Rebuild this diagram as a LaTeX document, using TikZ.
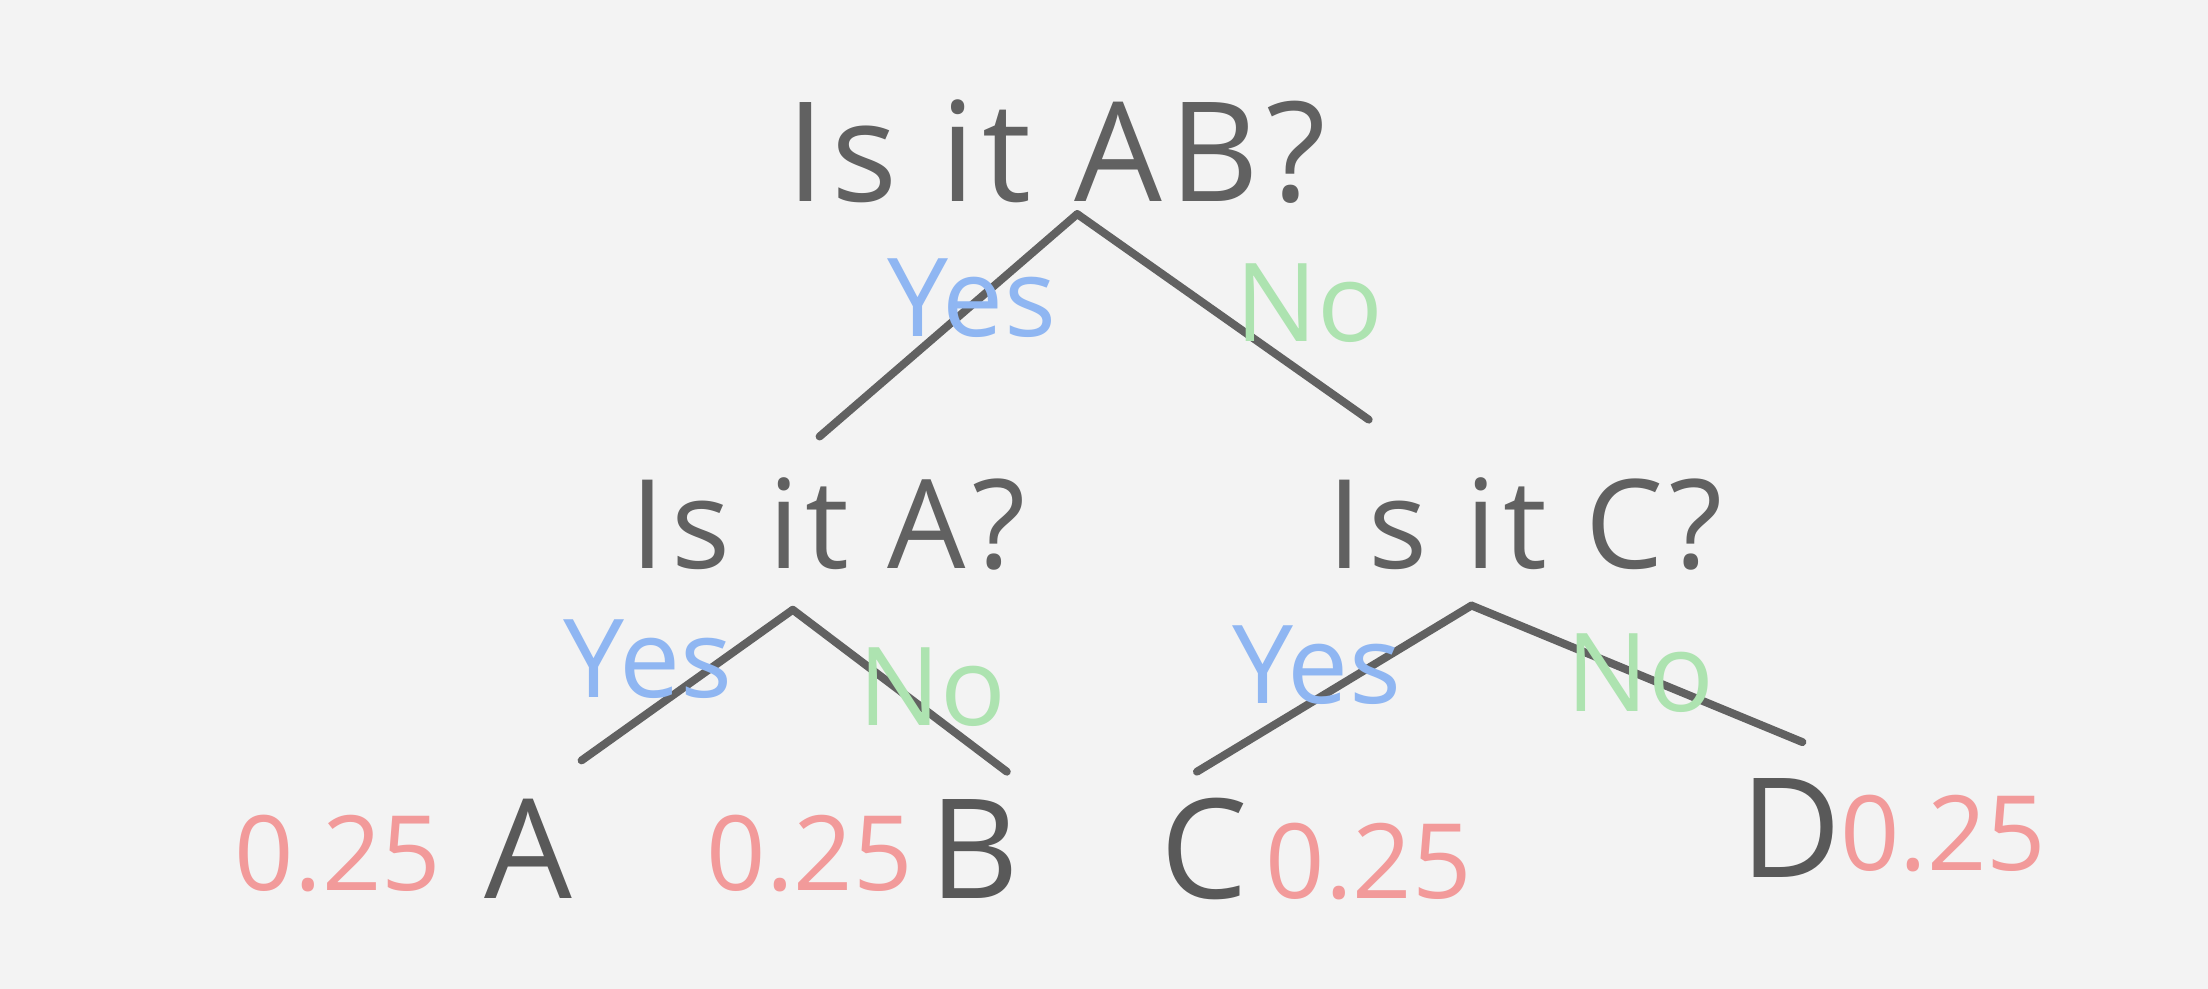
\documentclass[tikz,border=0pt]{standalone}
\usepackage{fontspec}
\setmainfont{Open Sans}
\begin{document}
\begin{tikzpicture}[x=0.01cm,y=-0.01cm,
  pencil/.style={draw=black!62,line width=1.6pt,line cap=round},
  q/.style={text=black!62,font=\fontsize{28}{34}\selectfont\addfontfeature{LetterSpace=5}},
  q2/.style={text=black!62,font=\fontsize{25}{30}\selectfont\addfontfeature{LetterSpace=5}},
  leaf/.style={text=black!65,font=\fontsize{28}{34}\selectfont},
  yes/.style={text=yesblue,font=\fontsize{22}{26}\selectfont},
  no/.style={text=nogreen,font=\fontsize{22}{26}\selectfont},
  prob/.style={text=probred,font=\fontsize{21}{25}\selectfont},
]
\definecolor{bg}{HTML}{F3F3F3}
\definecolor{yesblue}{HTML}{8FB6F2}
\definecolor{nogreen}{HTML}{ADE3B0}
\definecolor{probred}{HTML}{F29A9A}
\fill[bg] (0,0) rectangle (1568,702);
\useasboundingbox (0,0) rectangle (1568,702);

% questions
\node[q] (root) at (750,108) {Is it AB?};
\node[q2] (qa) at (588,372) {Is it A?};
\node[q2] (qc) at (1083,372) {Is it C?};

% branch points
\coordinate (r0) at (765,152);
\coordinate (rl) at (582,310);
\coordinate (rr) at (972,298);
\coordinate (a0) at (563,433);
\coordinate (al) at (413,540);
\coordinate (ar) at (715,548);
\coordinate (c0) at (1045,430);
\coordinate (cl) at (850,548);
\coordinate (cr) at (1280,527);

\draw[pencil] (r0) -- (rl);
\draw[pencil] (r0) -- (rr);
\draw[pencil] (a0) -- (al);
\draw[pencil] (a0) -- (ar);
\draw[pencil] (c0) -- (cl);
\draw[pencil] (c0) -- (cr);

% answers
\node[yes] (y1) at (690,212) {Yes};
\node[no] (n1) at (930,215) {No};
\node[yes] (y2) at (460,468) {Yes};
\node[no] (n2) at (662,488) {No};
\node[yes] (y3) at (935,472) {Yes};
\node[no] (n3) at (1165,478) {No};

% leaves
\node[leaf] (A) at (375,603) {A};
\node[leaf] (B) at (692,603) {B};
\node[leaf] (C) at (855,603) {C};
\node[leaf] (D) at (1272,588) {D};
\node[prob] (pA) at (240,606) {0.25};
\node[prob] (pB) at (575,606) {0.25};
\node[prob] (pC) at (972,612) {0.25};
\node[prob] (pD) at (1380,592) {0.25};
\end{tikzpicture}
\end{document}
